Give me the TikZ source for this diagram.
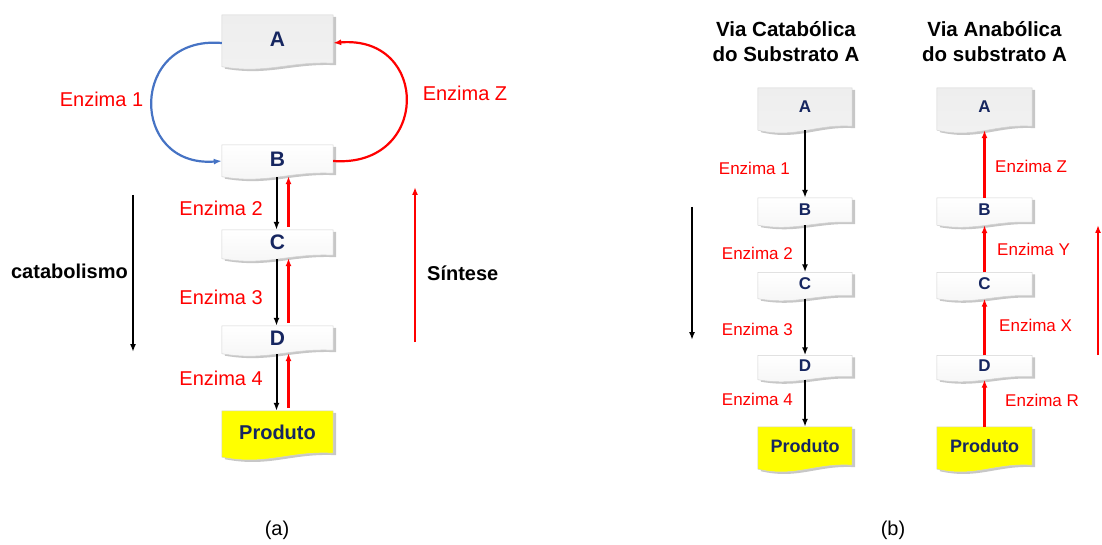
\documentclass[tikz,border=0pt]{standalone}
\usepackage{fontspec}
\setmainfont{Liberation Sans}
\usetikzlibrary{calc,arrows.meta,backgrounds}
\definecolor{navy}{RGB}{22,38,96}
\definecolor{myred}{RGB}{255,0,0}
\definecolor{myblue}{RGB}{70,115,196}
\definecolor{boxgray}{RGB}{238,238,238}
\newcommand\docshape[4]{%
  \path[fill=black,opacity=0.22] let \p1=(#1.north west), \p2=(#1.south east), \n1={\x2-\x1}, \n2={#4} in
    (\x1+3pt,\y1-2pt) -- (\x2+3pt,\y1-2pt) -- (\x2+3pt,\y2-2pt)
    .. controls (\x2+3pt-0.4*\n1,\y2-2pt+0.3*\n2) and (\x1+3pt+0.4*\n1,\y2-2pt-1.6*\n2) .. (\x1+3pt,\y2-2pt-0.5*\n2) -- cycle;
  \path[top color=#2,bottom color=#3,draw=gray!35,line width=0.5pt] let \p1=(#1.north west), \p2=(#1.south east), \n1={\x2-\x1}, \n2={#4} in
    (\x1,\y1) -- (\x2,\y1) -- (\x2,\y2)
    .. controls (\x2-0.4*\n1,\y2+0.3*\n2) and (\x1+0.4*\n1,\y2-1.6*\n2) .. (\x1,\y2-0.5*\n2) -- cycle;
}
\tikzset{
  bigbox/.style 2 args={inner sep=0pt, minimum width=#1, minimum height=#2, text=navy, font=\bfseries\fontsize{21}{25}\selectfont},
  smallbox/.style 2 args={inner sep=0pt, minimum width=#1, minimum height=#2, text=navy, font=\bfseries\fontsize{17}{20}\selectfont},
  bigenz/.style={text=myred, font=\fontsize{20}{24}\selectfont, inner sep=0pt},
  smallenz/.style={text=myred, font=\fontsize{17}{20}\selectfont, inner sep=0pt},
  boldlbl/.style={text=black, font=\bfseries\fontsize{20}{24}\selectfont, inner sep=0pt},
  caption/.style={text=black, font=\fontsize{20}{24}\selectfont, inner sep=0pt},
  title/.style={text=black, align=center, font=\bfseries\fontsize{20.5}{25}\selectfont, inner sep=0pt},
  blkarr/.style={draw=black, line width=2pt, -{Latex[length=8pt,width=6pt]}},
  redarr/.style={draw=myred, line width=2.2pt, -{Latex[length=8pt,width=6pt]}},
  bluearr/.style={draw=myblue, line width=2.2pt, -{Latex[length=8pt,width=6pt]}},
}
\begin{document}
\begin{tikzpicture}[x=1pt,y=-1pt]
\useasboundingbox (0,0) rectangle (1102,545);
% ---------- (a) ----------
\node[bigbox={111}{48}] (A1) at (277.5,39) {A};
\node[bigbox={111}{28}] (B1) at (277.5,159) {B};
\node[bigbox={111}{25}] (C1) at (277.5,242.5) {C};
\node[bigbox={111}{24}] (D1) at (277.5,338) {D};
\node[bigbox={111}{42}, font=\bfseries\fontsize{20}{24}\selectfont] (P1) at (277.5,432) {Produto};
% ---------- (b) left column ----------
\node[smallbox={94}{38}] (A2) at (805,107) {A};
\node[smallbox={94}{24}] (B2) at (805,210) {B};
\node[smallbox={94}{23}] (C2) at (805,284) {C};
\node[smallbox={94}{21}] (D2) at (805,366) {D};
\node[smallbox={94}{38}, font=\bfseries\fontsize{18}{22}\selectfont] (P2) at (805,446) {Produto};
% ---------- (b) right column ----------
\node[smallbox={95}{38}] (A3) at (984.5,107) {A};
\node[smallbox={95}{24}] (B3) at (984.5,210) {B};
\node[smallbox={95}{23}] (C3) at (984.5,284) {C};
\node[smallbox={95}{21}] (D3) at (984.5,366) {D};
\node[smallbox={95}{38}, font=\bfseries\fontsize{18}{22}\selectfont] (P3) at (984.5,446) {Produto};
\begin{scope}[on background layer]
  \docshape{A1}{boxgray}{boxgray!80!white}{7}
  \docshape{B1}{white}{gray!8}{7}
  \docshape{C1}{white}{gray!8}{7}
  \docshape{D1}{white}{gray!8}{7}
  \docshape{P1}{yellow}{yellow}{8}
  \docshape{A2}{boxgray}{boxgray!80!white}{8}
  \docshape{B2}{white}{gray!8}{6}
  \docshape{C2}{white}{gray!8}{6}
  \docshape{D2}{white}{gray!8}{6}
  \docshape{P2}{yellow}{yellow}{8}
  \docshape{A3}{boxgray}{boxgray!80!white}{8}
  \docshape{B3}{white}{gray!8}{6}
  \docshape{C3}{white}{gray!8}{6}
  \docshape{D3}{white}{gray!8}{6}
  \docshape{P3}{yellow}{yellow}{8}
\end{scope}
% ---------- arcs (a) ----------
\draw[bluearr] ([yshift=-4pt]A1.west) .. controls +(-93,-8) and +(-93,7) .. ([yshift=-2pt]B1.west);
\draw[redarr] ([yshift=-2pt]B1.east) .. controls +(97,7) and +(97,-8) .. ([yshift=-4pt]A1.east);
% ---------- vertical arrows (a) ----------
\draw[blkarr, shorten <=4pt] ([xshift=-1pt]B1.south) -- ([xshift=-1pt]C1.north);
\draw[blkarr, shorten <=4pt] ([xshift=-1pt]C1.south) -- ([xshift=-1pt]D1.north);
\draw[blkarr, shorten <=4pt] ([xshift=-1pt]D1.south) -- ([xshift=-1pt]P1.north);
\draw[redarr, shorten >=3pt] ([xshift=11pt,yshift=3pt]C1.north) -- ([xshift=11pt]B1.south);
\draw[redarr, shorten >=3pt] ([xshift=11pt,yshift=3pt]D1.north) -- ([xshift=11pt]C1.south);
\draw[redarr, shorten >=3pt] ([xshift=11pt,yshift=3pt]P1.north) -- ([xshift=11pt]D1.south);
% ---------- labels (a) ----------
\node[bigenz] (e1) at (101.5,99) {Enzima 1};
\node[bigenz] (ez) at (465,93) {Enzima Z};
\node[bigenz, anchor=east] (e2) at (263,208) {Enzima 2};
\node[bigenz, anchor=east] (e3) at (263,297) {Enzima 3};
\node[bigenz, anchor=east] (e4) at (263,378) {Enzima 4};
\node[boldlbl, anchor=east] (cat) at (128,271) {catabolismo};
\node[boldlbl, anchor=west] (sin) at (427,273) {Síntese};
\coordinate (cattop) at (133,195);
\coordinate (catbot) at (133,352);
\draw[blkarr] (cattop) -- (catbot);
\coordinate (sinbot) at (415,342);
\coordinate (sintop) at (415,187);
\draw[redarr] (sinbot) -- (sintop);
\node[caption] (capa) at (277,530) {(a)};
% ---------- (b) ----------
\node[title] (t1) at (786,42) {Via Catabólica\\do Substrato A};
\node[title] (t2) at (994.5,42) {Via Anabólica\\do substrato A};
\draw[blkarr, shorten <=4pt] (A2.south) -- (B2.north);
\draw[blkarr, shorten <=3pt] (B2.south) -- (C2.north);
\draw[blkarr, shorten <=3pt] (C2.south) -- (D2.north);
\draw[blkarr, shorten <=3pt] (D2.south) -- (P2.north);
\draw[redarr, shorten >=4pt] (B3.north) -- (A3.south);
\draw[redarr, shorten >=3pt] (C3.north) -- (B3.south);
\draw[redarr, shorten >=3pt] (D3.north) -- (C3.south);
\draw[redarr, shorten >=3pt] (P3.north) -- (D3.south);
\node[smallenz, anchor=east] (f1) at (790,168) {Enzima 1};
\node[smallenz, anchor=east] (f2) at (793,253) {Enzima 2};
\node[smallenz, anchor=east] (f3) at (793,329) {Enzima 3};
\node[smallenz, anchor=east] (f4) at (793,399) {Enzima 4};
\node[smallenz, anchor=west] (fz) at (995,166) {Enzima Z};
\node[smallenz, anchor=west] (fy) at (997,249) {Enzima Y};
\node[smallenz, anchor=west] (fx) at (999,325) {Enzima X};
\node[smallenz, anchor=west] (fr) at (1005,400) {Enzima R};
\coordinate (ltop) at (692,207);
\coordinate (lbot) at (692,340);
\draw[blkarr] (ltop) -- (lbot);
\coordinate (rbot) at (1098,355);
\coordinate (rtop) at (1098,225);
\draw[redarr] (rbot) -- (rtop);
\node[caption] (capb) at (893,530) {(b)};
\end{tikzpicture}
\end{document}
